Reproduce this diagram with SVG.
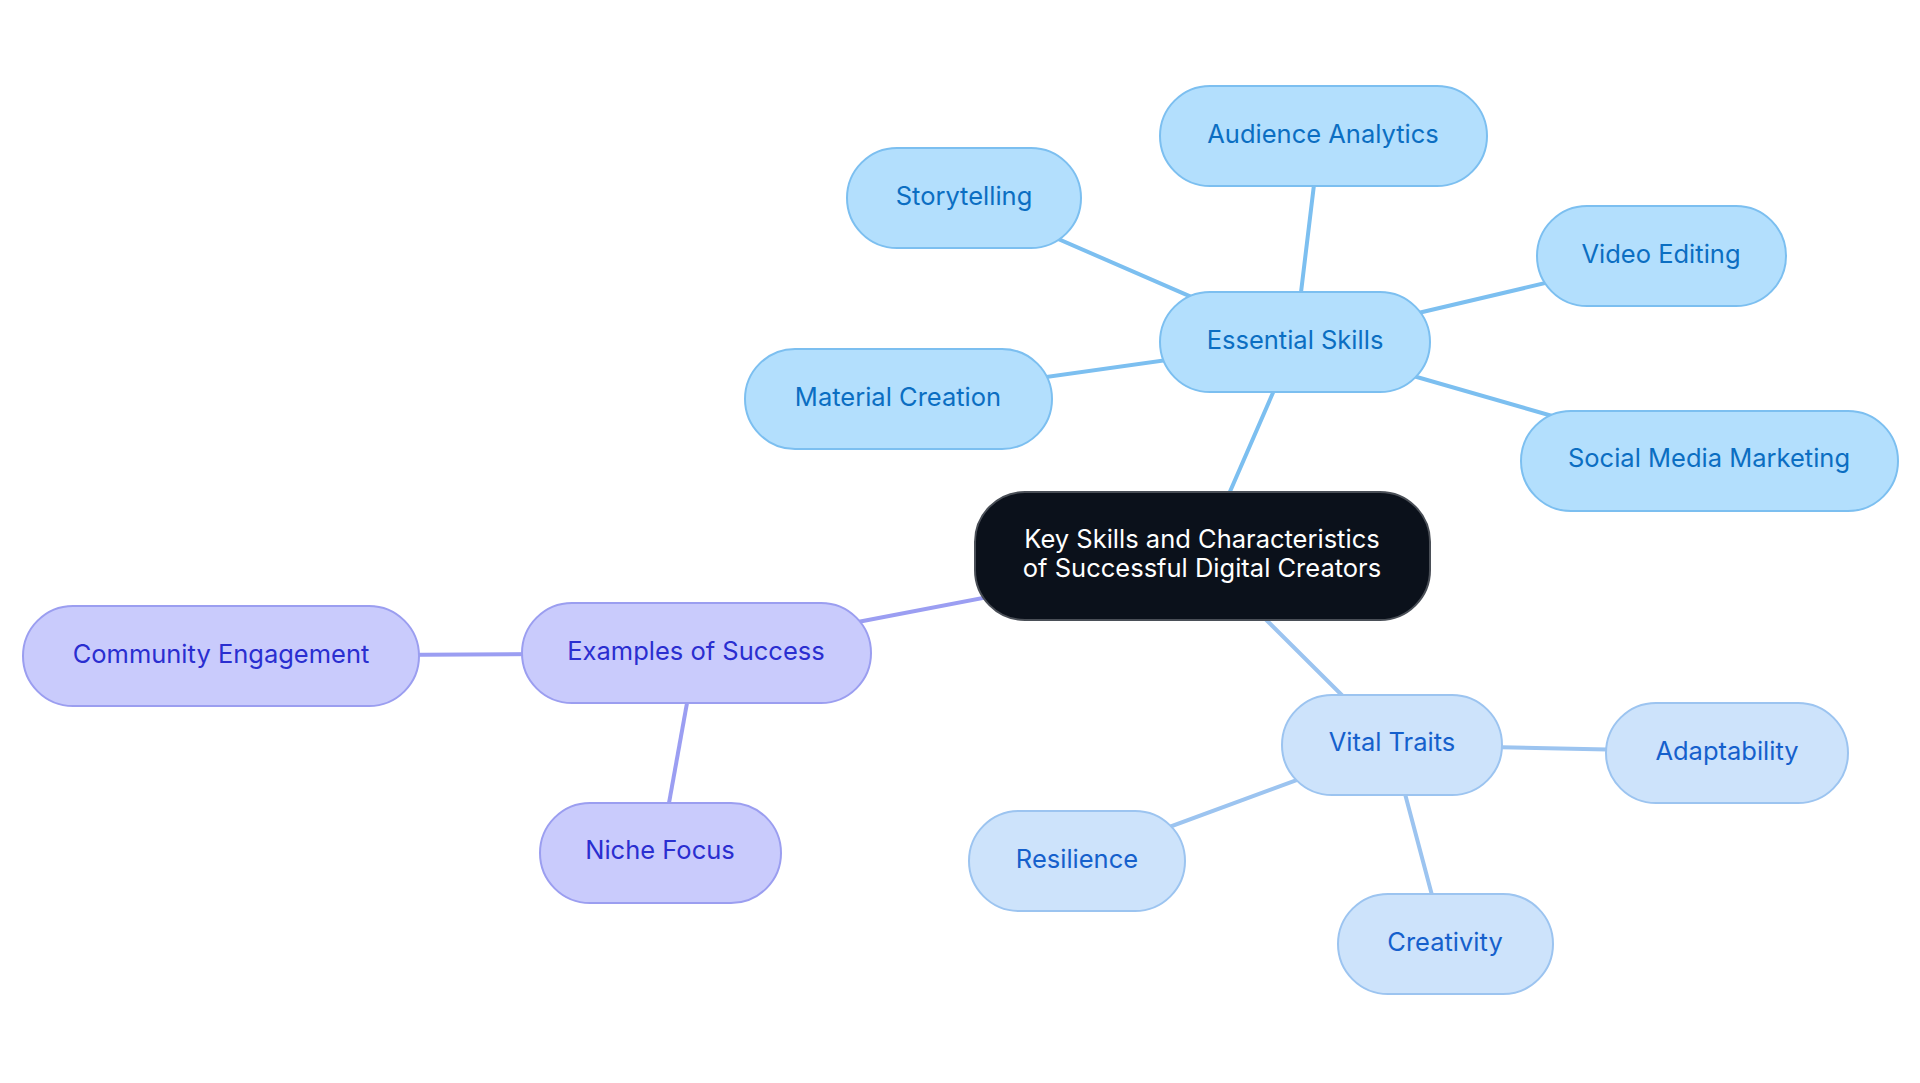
<svg xmlns="http://www.w3.org/2000/svg" width="1920" height="1083" viewBox="0 0 1920 1083">
<style>
text{font-family:Inter,"Noto Sans",sans-serif;font-size:25.5px;text-anchor:middle}
.b rect{fill:#b3dffd;stroke:#7cbff0;stroke-width:2}
.b text{fill:#0b6ec2}
.v rect{fill:#cde3fb;stroke:#9cc4f0;stroke-width:2}
.v text{fill:#1560cc}
.p rect{fill:#c9cbfc;stroke:#9b9ef0;stroke-width:2}
.p text{fill:#2a2ed0}
.c rect{fill:#0b111b;stroke:#4a4f57;stroke-width:2}
.c text{fill:#ffffff}
#edges line{stroke-width:4;stroke-linecap:round}
.eb{stroke:#7cbff0}.ev{stroke:#9cc4f0}.ep{stroke:#9b9ef2}
</style>
<rect width="1920" height="1083" fill="#ffffff"/>
<g id="edges">
<line class="eb" x1="1202" y1="556" x2="1295" y2="342"/>
<line class="eb" x1="1295" y1="342" x2="1320" y2="135"/>
<line class="eb" x1="1295" y1="342" x2="964" y2="198"/>
<line class="eb" x1="1295" y1="342" x2="1660" y2="256"/>
<line class="eb" x1="1295" y1="342" x2="898" y2="398"/>
<line class="eb" x1="1295" y1="342" x2="1709" y2="461"/>
<line class="ep" x1="1202" y1="556" x2="696" y2="653"/>
<line class="ep" x1="696" y1="653" x2="220" y2="656"/>
<line class="ep" x1="696" y1="653" x2="660" y2="853"/>
<line class="ev" x1="1202" y1="556" x2="1392" y2="745"/>
<line class="ev" x1="1392" y1="745" x2="1727" y2="752"/>
<line class="ev" x1="1392" y1="745" x2="1077" y2="861"/>
<line class="ev" x1="1392" y1="745" x2="1445" y2="944"/>
</g>
<g id="center" class="c"><rect x="975" y="492" width="455" height="128" rx="50"/><text x="1202" y="548">Key Skills and Characteristics</text><text x="1202" y="577">of Successful Digital Creators</text></g>
<g id="essential-skills" class="b"><rect x="1160" y="292" width="270" height="100" rx="50"/><text x="1295" y="349">Essential Skills</text></g>
<g id="audience-analytics" class="b"><rect x="1160" y="86" width="327" height="100" rx="50"/><text x="1323" y="143">Audience Analytics</text></g>
<g id="storytelling" class="b"><rect x="847" y="148" width="234" height="100" rx="50"/><text x="964" y="205">Storytelling</text></g>
<g id="material-creation" class="b"><rect x="745" y="349" width="307" height="100" rx="50"/><text x="898" y="406">Material Creation</text></g>
<g id="video-editing" class="b"><rect x="1537" y="206" width="249" height="100" rx="50"/><text x="1661" y="263">Video Editing</text></g>
<g id="social-media-marketing" class="b"><rect x="1521" y="411" width="377" height="100" rx="50"/><text x="1709" y="467">Social Media Marketing</text></g>
<g id="examples-of-success" class="p"><rect x="522" y="603" width="349" height="100" rx="50"/><text x="696" y="660">Examples of Success</text></g>
<g id="community-engagement" class="p"><rect x="23" y="606" width="396" height="100" rx="50"/><text x="221" y="663">Community Engagement</text></g>
<g id="niche-focus" class="p"><rect x="540" y="803" width="241" height="100" rx="50"/><text x="660" y="859">Niche Focus</text></g>
<g id="vital-traits" class="v"><rect x="1282" y="695" width="220" height="100" rx="50"/><text x="1392" y="751">Vital Traits</text></g>
<g id="adaptability" class="v"><rect x="1606" y="703" width="242" height="100" rx="50"/><text x="1727" y="760">Adaptability</text></g>
<g id="resilience" class="v"><rect x="969" y="811" width="216" height="100" rx="50"/><text x="1077" y="868">Resilience</text></g>
<g id="creativity" class="v"><rect x="1338" y="894" width="215" height="100" rx="50"/><text x="1445" y="951">Creativity</text></g>
</svg>
